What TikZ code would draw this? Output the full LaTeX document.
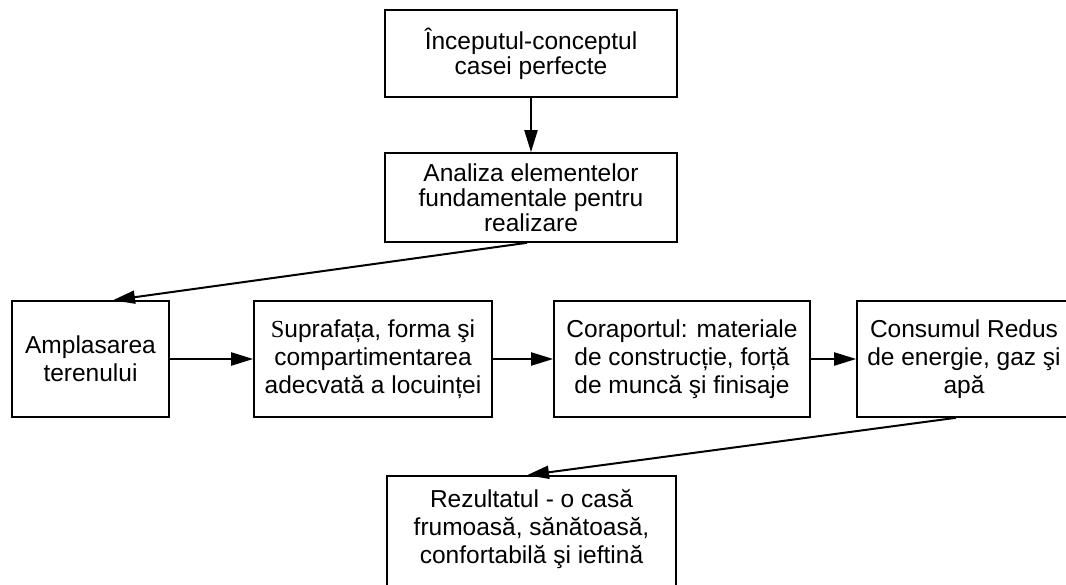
\documentclass[tikz,border=0pt]{standalone}
\usepackage{fontspec}
\setmainfont{Liberation Sans}
\newfontfamily\serifS{Liberation Serif}
\usetikzlibrary{arrows.meta}
\begin{document}
\begin{tikzpicture}[x=1pt,y=1pt,
  box/.style={draw=black, line width=1.6pt, inner sep=0pt, align=center,
    font=\fontsize{24.5}{28}\selectfont},
  tight/.style={font=\fontsize{24.5}{25}\selectfont},
  txt/.style={inner sep=0pt, align=center, font=\fontsize{24.5}{28}\selectfont},
  arr/.style={line width=2pt, -{Triangle[length=22pt,width=13pt]}}]
\useasboundingbox (0,0) rectangle (1066,-585);
\clip (0,0) rectangle (1066,-585);
\fill[white] (0,0) rectangle (1066,-585);
\node[box, tight, minimum width=292, minimum height=87] (top) at (531,-53.5)
  {Începutul-conceptul\\casei perfecte};
\node[box, tight, minimum width=292, minimum height=89] (ana) at (531,-197.5)
  {Analiza elementelor\\fundamentale pentru\\realizare};
\node[box, minimum width=157, minimum height=116] (amp) at (90.5,-359)
  {Amplasarea\\terenului};
\node[box, minimum width=238, minimum height=116] (sup) at (373,-359)
  {{\serifS S}uprafața, forma şi\\compartimentarea\\adecvată a locuinței};
\node[box, minimum width=256, minimum height=116] (cor) at (682,-359)
  {Coraportul: materiale\\de construcție, forță\\de muncă şi finisaje};
\node[box, minimum width=214, minimum height=116] (con) at (964,-359)
  {Consumul Redus\\de energie, gaz şi\\apă};
\node[box, minimum width=289, minimum height=114] (res) at (531.5,-533) {};
\node[txt] (restxt) at (531.5,-529)
  {Rezultatul - o casă\\frumoasă, sănătoasă,\\confortabilă şi ieftină};
\draw[arr] (top.south) -- (ana.north);
\draw[arr] ([xshift=-4pt]ana.south) -- ([xshift=22.5pt]amp.north);
\draw[arr] (amp.east) -- (sup.west);
\draw[arr] (sup.east) -- (cor.west);
\draw[arr] (cor.east) -- (con.west);
\draw[arr] ([xshift=-8pt]con.south) -- ([xshift=-4.5pt]res.north);
\end{tikzpicture}
\end{document}
